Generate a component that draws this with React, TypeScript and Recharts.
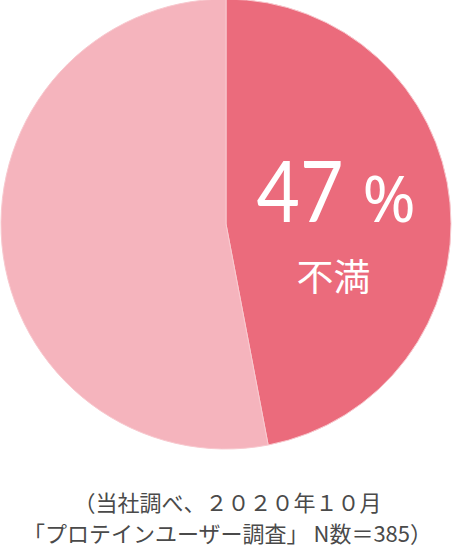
import { PieChart, Pie, Cell } from "recharts";

const SLICE_NAMES = ["不満", "その他"];
const SLICE_VALUES = [47, 53];
const SLICE_COLORS = ["#eb6b7c", "#f5b4bd"];
const CAPTION_LINES = ["（当社調べ、２０２０年１０月", "「プロテインユーザー調査」 N数＝385）"];

const data = SLICE_NAMES.map((name, i) => ({ name, value: SLICE_VALUES[i] }));

const RADIAN = Math.PI / 180;

// only the first slice carries the big label
function renderLabel(props: any) {
  const { cx, cy, midAngle, outerRadius, index, value, name } = props;
  if (index !== 0) return null;
  const r = outerRadius * 0.48;
  const x = cx + r * Math.cos(-midAngle * RADIAN);
  const y = cy + r * Math.sin(-midAngle * RADIAN);
  return (
    <g>
      <text
        x={x - 77}
        y={y + 8}
        fill="#fff"
        fontFamily="Lato, 'Noto Sans', sans-serif"
        fontWeight={400}
        fontSize={86}
        textLength={87}
        lengthAdjust="spacingAndGlyphs"
      >
        {value}
      </text>
      <text
        x={x + 29}
        y={y + 8}
        fill="#fff"
        fontFamily="'Noto Sans', sans-serif"
        fontWeight={400}
        fontSize={64}
      >
        %
      </text>
      <text
        x={x}
        y={y + 61}
        fill="#fff"
        textAnchor="middle"
        dominantBaseline="central"
        fontFamily="'Noto Sans CJK JP', sans-serif"
        fontWeight={400}
        fontSize={37}
      >
        {name}
      </text>
    </g>
  );
}

export default function App() {
  return (
    <div style={{ position: "fixed", left: 0, top: 0, width: 452, height: 550, background: "#fff", overflow: "hidden" }}>
      <PieChart width={452} height={460} margin={{ top: 0, right: 0, bottom: 0, left: 0 }}>
        <Pie
          data={data}
          dataKey="value"
          nameKey="name"
          cx={226}
          cy={224}
          innerRadius={0}
          outerRadius={225}
          startAngle={90}
          endAngle={-270}
          stroke="#f8c9cf"
          strokeWidth={1}
          labelLine={false}
          label={renderLabel}
          isAnimationActive={false}
        >
          {data.map((entry, i) => (
            <Cell key={entry.name} fill={SLICE_COLORS[i]} />
          ))}
        </Pie>
      </PieChart>
      <div
        style={{
          position: "absolute",
          left: -20,
          top: 486,
          width: 495,
          textAlign: "center",
          color: "#4a4a4a",
          fontFamily: "'Noto Sans CJK JP', sans-serif",
          fontSize: 22,
          lineHeight: "31px",
          whiteSpace: "nowrap",
        }}
      >
        {CAPTION_LINES.map((line) => (
          <div key={line}>{line}</div>
        ))}
      </div>
    </div>
  );
}
